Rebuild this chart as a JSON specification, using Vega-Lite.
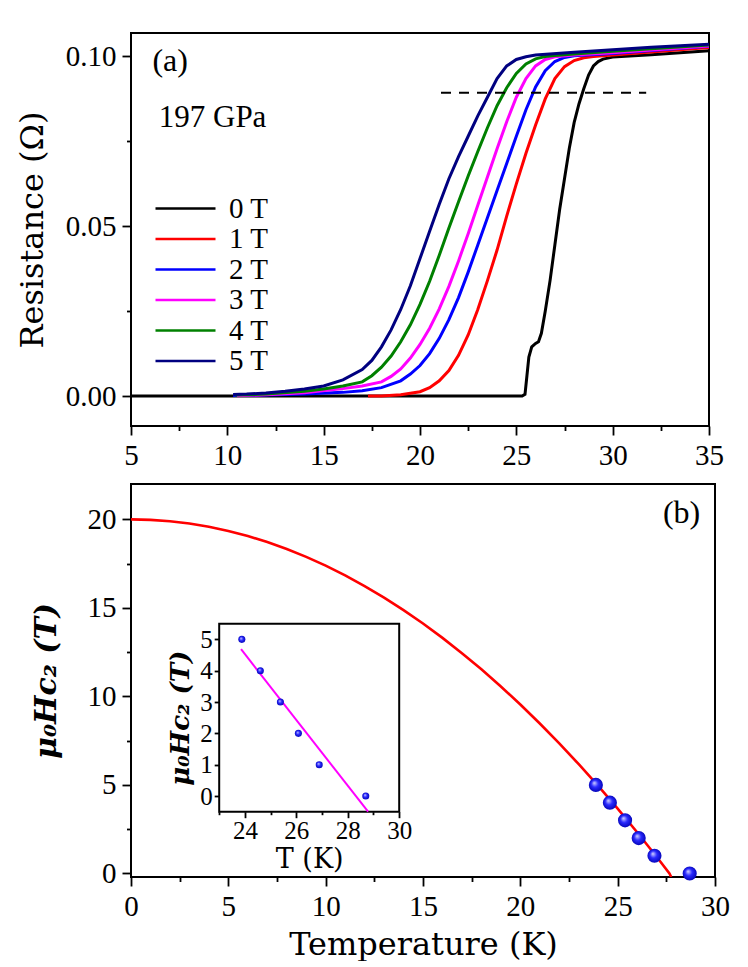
{
  "$schema": "https://vega.github.io/schema/vega-lite/v6.json",
  "background": "white",
  "padding": {"left": 15, "top": 32, "right": 0, "bottom": 0},
  "spacing": 58,
  "bounds": "flush",
  "resolve": {"scale": {"color": "independent", "x": "independent", "y": "independent"}},
  "config": {
    "view": {"stroke": "black", "strokeWidth": 2},
    "axis": {"domain": false, "grid": false, "tickColor": "black", "tickWidth": 1.8, "labelColor": "black", "titleColor": "black", "labelFont": "Liberation Serif", "labelFontSize": 29, "titleFont": "DejaVu Serif", "titleFontSize": 32, "titleFontWeight": "normal", "labelPadding": 6, "labelFlush": false, "labelOverlap": false, "labelBound": false},
    "text": {"color": "black"}
  },
  "datasets": {
    "res": [
      {"B":"0 T","T":5,"R":0},{"B":"0 T","T":8,"R":0},{"B":"0 T","T":10,"R":0},{"B":"0 T","T":13,"R":0},{"B":"0 T","T":16,"R":0},{"B":"0 T","T":19,"R":0},{"B":"0 T","T":22,"R":0},{"B":"0 T","T":24,"R":0},{"B":"0 T","T":25.3,"R":0},{"B":"0 T","T":25.45,"R":0.0005},{"B":"0 T","T":25.55,"R":0.006},{"B":"0 T","T":25.65,"R":0.0115},{"B":"0 T","T":25.8,"R":0.0145},{"B":"0 T","T":26.0,"R":0.0155},{"B":"0 T","T":26.15,"R":0.016},{"B":"0 T","T":26.3,"R":0.0185},{"B":"0 T","T":26.5,"R":0.025},{"B":"0 T","T":26.75,"R":0.034},{"B":"0 T","T":27.0,"R":0.0445},{"B":"0 T","T":27.25,"R":0.055},{"B":"0 T","T":27.5,"R":0.064},{"B":"0 T","T":27.75,"R":0.073},{"B":"0 T","T":28.0,"R":0.0805},{"B":"0 T","T":28.25,"R":0.086},{"B":"0 T","T":28.5,"R":0.0905},{"B":"0 T","T":28.75,"R":0.0945},{"B":"0 T","T":29.0,"R":0.0972},{"B":"0 T","T":29.25,"R":0.0985},{"B":"0 T","T":29.5,"R":0.0992},{"B":"0 T","T":30.0,"R":0.0998},{"B":"0 T","T":32,"R":0.1005},{"B":"0 T","T":35,"R":0.1017},
      {"B":"1 T","T":17.3,"R":0},{"B":"1 T","T":18,"R":0},{"B":"1 T","T":19,"R":0.0004},{"B":"1 T","T":20,"R":0.0013},{"B":"1 T","T":20.5,"R":0.0025},{"B":"1 T","T":21,"R":0.0045},{"B":"1 T","T":21.5,"R":0.0075},{"B":"1 T","T":22,"R":0.012},{"B":"1 T","T":22.5,"R":0.018},{"B":"1 T","T":23,"R":0.0255},{"B":"1 T","T":23.5,"R":0.034},{"B":"1 T","T":24,"R":0.043},{"B":"1 T","T":24.5,"R":0.053},{"B":"1 T","T":25,"R":0.0625},{"B":"1 T","T":25.5,"R":0.0715},{"B":"1 T","T":26,"R":0.0798},{"B":"1 T","T":26.5,"R":0.0875},{"B":"1 T","T":27,"R":0.0935},{"B":"1 T","T":27.5,"R":0.097},{"B":"1 T","T":28,"R":0.0988},{"B":"1 T","T":28.5,"R":0.0996},{"B":"1 T","T":29,"R":0.1},{"B":"1 T","T":30,"R":0.1004},{"B":"1 T","T":35,"R":0.1026},
      {"B":"2 T","T":10.3,"R":0.0002},{"B":"2 T","T":12,"R":0.0003},{"B":"2 T","T":14,"R":0.0006},{"B":"2 T","T":16,"R":0.0011},{"B":"2 T","T":17,"R":0.0016},{"B":"2 T","T":18,"R":0.0025},{"B":"2 T","T":19,"R":0.0045},{"B":"2 T","T":19.5,"R":0.0065},{"B":"2 T","T":20,"R":0.009},{"B":"2 T","T":20.5,"R":0.0125},{"B":"2 T","T":21,"R":0.017},{"B":"2 T","T":21.5,"R":0.0225},{"B":"2 T","T":22,"R":0.029},{"B":"2 T","T":22.5,"R":0.0365},{"B":"2 T","T":23,"R":0.0445},{"B":"2 T","T":23.5,"R":0.0525},{"B":"2 T","T":24,"R":0.0605},{"B":"2 T","T":24.5,"R":0.0685},{"B":"2 T","T":25,"R":0.0765},{"B":"2 T","T":25.5,"R":0.0843},{"B":"2 T","T":26,"R":0.091},{"B":"2 T","T":26.5,"R":0.0958},{"B":"2 T","T":27,"R":0.0985},{"B":"2 T","T":27.5,"R":0.0997},{"B":"2 T","T":28,"R":0.1002},{"B":"2 T","T":30,"R":0.1009},{"B":"2 T","T":35,"R":0.103},
      {"B":"3 T","T":10.5,"R":0.0001},{"B":"3 T","T":12,"R":0.0004},{"B":"3 T","T":14,"R":0.001},{"B":"3 T","T":16,"R":0.0022},{"B":"3 T","T":17,"R":0.003},{"B":"3 T","T":18,"R":0.0042},{"B":"3 T","T":18.5,"R":0.0058},{"B":"3 T","T":19,"R":0.008},{"B":"3 T","T":19.5,"R":0.0112},{"B":"3 T","T":20,"R":0.0152},{"B":"3 T","T":20.5,"R":0.02},{"B":"3 T","T":21,"R":0.0257},{"B":"3 T","T":21.5,"R":0.0323},{"B":"3 T","T":22,"R":0.0398},{"B":"3 T","T":22.5,"R":0.0478},{"B":"3 T","T":23,"R":0.0562},{"B":"3 T","T":23.5,"R":0.0645},{"B":"3 T","T":24,"R":0.0728},{"B":"3 T","T":24.5,"R":0.0808},{"B":"3 T","T":25,"R":0.088},{"B":"3 T","T":25.5,"R":0.0935},{"B":"3 T","T":26,"R":0.0972},{"B":"3 T","T":26.5,"R":0.0991},{"B":"3 T","T":27,"R":0.0999},{"B":"3 T","T":28,"R":0.1004},{"B":"3 T","T":30,"R":0.1011},{"B":"3 T","T":35,"R":0.1031},
      {"B":"4 T","T":10.4,"R":0.0003},{"B":"4 T","T":12,"R":0.0006},{"B":"4 T","T":14,"R":0.0014},{"B":"4 T","T":15,"R":0.0021},{"B":"4 T","T":16,"R":0.003},{"B":"4 T","T":17,"R":0.0042},{"B":"4 T","T":17.5,"R":0.006},{"B":"4 T","T":18,"R":0.0085},{"B":"4 T","T":18.5,"R":0.0118},{"B":"4 T","T":19,"R":0.016},{"B":"4 T","T":19.5,"R":0.021},{"B":"4 T","T":20,"R":0.027},{"B":"4 T","T":20.5,"R":0.0338},{"B":"4 T","T":21,"R":0.0415},{"B":"4 T","T":21.5,"R":0.0495},{"B":"4 T","T":22,"R":0.0572},{"B":"4 T","T":22.5,"R":0.0648},{"B":"4 T","T":23,"R":0.072},{"B":"4 T","T":23.5,"R":0.079},{"B":"4 T","T":24,"R":0.0855},{"B":"4 T","T":24.5,"R":0.0908},{"B":"4 T","T":25,"R":0.095},{"B":"4 T","T":25.5,"R":0.0978},{"B":"4 T","T":26,"R":0.0993},{"B":"4 T","T":26.5,"R":0.1},{"B":"4 T","T":27,"R":0.1003},{"B":"4 T","T":28,"R":0.1007},{"B":"4 T","T":30,"R":0.1015},{"B":"4 T","T":35,"R":0.1034},
      {"B":"5 T","T":10.3,"R":0.0005},{"B":"5 T","T":11,"R":0.0006},{"B":"5 T","T":12,"R":0.0009},{"B":"5 T","T":13,"R":0.0014},{"B":"5 T","T":14,"R":0.0021},{"B":"5 T","T":15,"R":0.003},{"B":"5 T","T":16,"R":0.0048},{"B":"5 T","T":17,"R":0.0078},{"B":"5 T","T":17.5,"R":0.0105},{"B":"5 T","T":18,"R":0.0145},{"B":"5 T","T":18.5,"R":0.0195},{"B":"5 T","T":19,"R":0.0255},{"B":"5 T","T":19.5,"R":0.0325},{"B":"5 T","T":20,"R":0.0405},{"B":"5 T","T":20.5,"R":0.0485},{"B":"5 T","T":21,"R":0.0565},{"B":"5 T","T":21.5,"R":0.064},{"B":"5 T","T":22,"R":0.0705},{"B":"5 T","T":22.5,"R":0.0765},{"B":"5 T","T":23,"R":0.0825},{"B":"5 T","T":23.5,"R":0.088},{"B":"5 T","T":24,"R":0.0935},{"B":"5 T","T":24.5,"R":0.0972},{"B":"5 T","T":25,"R":0.0991},{"B":"5 T","T":25.5,"R":0.0999},{"B":"5 T","T":26,"R":0.1004},{"B":"5 T","T":28,"R":0.1012},{"B":"5 T","T":30,"R":0.102},{"B":"5 T","T":32,"R":0.1027},{"B":"5 T","T":35,"R":0.1036}
    ],
    "hc2": [
      {"T":0,"H":20},{"T":1,"H":19.974},{"T":2,"H":19.895},{"T":3,"H":19.765},{"T":4,"H":19.582},{"T":5,"H":19.346},{"T":6,"H":19.059},{"T":7,"H":18.719},{"T":8,"H":18.327},{"T":9,"H":17.883},{"T":10,"H":17.386},{"T":11,"H":16.837},{"T":12,"H":16.236},{"T":13,"H":15.582},{"T":14,"H":14.876},{"T":15,"H":14.118},{"T":16,"H":13.308},{"T":17,"H":12.445},{"T":18,"H":11.53},{"T":19,"H":10.563},{"T":20,"H":9.544},{"T":21,"H":8.472},{"T":22,"H":7.348},{"T":23,"H":6.171},{"T":24,"H":4.943},{"T":25,"H":3.662},{"T":26,"H":2.329},{"T":27,"H":0.943},{"T":27.66,"H":0},{"T":27.75,"H":-0.2}
    ],
    "pts": [
      {"T":23.88,"H":5},{"T":24.6,"H":4},{"T":25.38,"H":3},{"T":26.08,"H":2},{"T":26.89,"H":1},{"T":28.7,"H":0}
    ],
    "fit": [
      {"T":23.85,"H":4.685},{"T":28.79,"H":-0.5}
    ]
  },
  "vconcat": [
    {
      "width": 578,
      "height": 393,
      "layer": [
        {
          "data": {"name": "res"},
          "mark": {"type": "line", "strokeWidth": 3, "clip": true},
          "encoding": {
            "x": {"field": "T", "type": "quantitative",
              "scale": {"domain": [5, 35], "nice": false, "zero": false},
              "axis": {"title": null, "values": [5, 7.5, 10, 12.5, 15, 17.5, 20, 22.5, 25, 27.5, 30, 32.5, 35],
                "labelExpr": "datum.value % 5 != 0 ? '' : format(datum.value, 'd')",
                "tickSize": {"condition": {"test": "datum.value % 5 != 0", "value": 4.5}, "value": 9}}},
            "y": {"field": "R", "type": "quantitative",
              "scale": {"domain": [-0.0088, 0.1069], "nice": false, "zero": false},
              "axis": {"title": "Resistance (Ω)", "titlePadding": 16, "values": [0, 0.025, 0.05, 0.075, 0.1],
                "labelExpr": "round(datum.value * 1000) % 50 != 0 ? '' : format(datum.value, '.2f')",
                "tickSize": {"condition": {"test": "round(datum.value * 1000) % 50 != 0", "value": 4.5}, "value": 9}}},
            "color": {"field": "B", "type": "nominal",
              "scale": {"domain": ["0 T", "1 T", "2 T", "3 T", "4 T", "5 T"], "range": ["#000000", "#ff0000", "#0000ff", "#ff00ff", "#008000", "#000080"]},
              "legend": {"orient": "none", "legendX": 40, "legendY": 161, "title": null, "symbolType": "M -3,0 L 3,0", "symbolSize": 400, "symbolStrokeWidth": 2.6, "labelFontSize": 29, "labelFont": "Liberation Serif", "labelColor": "black", "labelOffset": 29, "rowPadding": 0.5, "padding": 0}}
          }
        },
        {
          "data": {"values": [{}]},
          "mark": {"type": "rule", "strokeDash": [10, 8], "strokeWidth": 2, "color": "black"},
          "encoding": {"x": {"datum": 21.09}, "x2": {"datum": 31.74}, "y": {"datum": 0.0893}}
        },
        {
          "data": {"values": [{}]},
          "mark": {"type": "text", "text": "(a)", "align": "left", "baseline": "middle", "fontSize": 32, "font": "Liberation Serif"},
          "encoding": {"x": {"datum": 6.11}, "y": {"datum": 0.0987}}
        },
        {
          "data": {"values": [{}]},
          "mark": {"type": "text", "text": "197 GPa", "align": "left", "baseline": "middle", "fontSize": 31, "font": "Liberation Serif"},
          "encoding": {"x": {"datum": 6.44}, "y": {"datum": 0.0819}}
        }
      ]
    },
    {
      "width": 584,
      "height": 393,
      "layer": [
        {
          "layer": [
            {
              "data": {"name": "hc2"},
              "mark": {"type": "line", "color": "#ff0000", "strokeWidth": 2.6, "clip": true},
              "encoding": {
                "x": {"field": "T", "type": "quantitative",
                  "scale": {"domain": [0, 30], "nice": false, "zero": false},
                  "axis": {"orient": "bottom", "title": "Temperature (K)", "titlePadding": 8,
                    "values": [0, 2.5, 5, 7.5, 10, 12.5, 15, 17.5, 20, 22.5, 25, 27.5, 30],
                    "labelExpr": "datum.value % 5 != 0 ? '' : format(datum.value, 'd')",
                    "tickSize": {"condition": {"test": "datum.value % 5 != 0", "value": 4.5}, "value": 9}}},
                "y": {"field": "H", "type": "quantitative",
                  "scale": {"domain": [-0.2, 22], "nice": false, "zero": false},
                  "axis": {"orient": "left", "title": "μ₀Hc₂ (T)", "titleFontStyle": "italic", "titleFontWeight": "bold", "titleFontSize": 30, "titlePadding": 26,
                    "values": [0, 2.5, 5, 7.5, 10, 12.5, 15, 17.5, 20],
                    "labelExpr": "datum.value % 5 != 0 ? '' : format(datum.value, 'd')",
                    "tickSize": {"condition": {"test": "datum.value % 5 != 0", "value": 4.5}, "value": 9}}}
              }
            },
            {
              "data": {"name": "pts"},
              "mark": {"type": "point", "filled": true, "size": 200, "opacity": 1, "strokeWidth": 0,
                "fill": {"gradient": "radial", "x1": 0.38, "y1": 0.35, "r1": 0, "x2": 0.5, "y2": 0.5, "r2": 0.55,
                  "stops": [{"offset": 0, "color": "#d8d8ff"}, {"offset": 0.45, "color": "#2a2aff"}, {"offset": 1, "color": "#0000b0"}]}},
              "encoding": {"x": {"field": "T", "type": "quantitative"}, "y": {"field": "H", "type": "quantitative"}}
            },
            {
              "data": {"values": [{}]},
              "mark": {"type": "text", "text": "(b)", "align": "right", "baseline": "middle", "fontSize": 32, "font": "Liberation Serif"},
              "encoding": {"x": {"datum": 29.24}, "y": {"datum": 20.35}}
            }
          ]
        },
        {
          "layer": [
            {
              "data": {"values": [{}]},
              "mark": {"type": "rect", "fill": "white", "stroke": "black", "strokeWidth": 2},
              "encoding": {
                "x": {"datum": 23, "type": "quantitative",
                  "scale": {"domain": [23, 30], "range": [88.2, 268.2], "nice": false, "zero": false},
                  "axis": {"orient": "bottom", "offset": -65.3, "title": "T (K)", "titleFontSize": 27, "titlePadding": 3, "labelFontSize": 25, "labelPadding": 1,
                    "values": [23, 24, 25, 26, 27, 28, 29, 30],
                    "labelExpr": "datum.value % 2 != 0 ? '' : format(datum.value, 'd')",
                    "tickSize": {"condition": {"test": "datum.value % 2 != 0", "value": 3}, "value": 6}}},
                "x2": {"datum": 30},
                "y": {"datum": -0.5, "type": "quantitative",
                  "scale": {"domain": [-0.5, 5.5], "range": [327.7, 139.7], "nice": false, "zero": false},
                  "axis": {"orient": "left", "offset": -88.2, "title": "μ₀Hc₂ (T)", "titleFontStyle": "italic", "titleFontWeight": "bold", "titleFontSize": 26, "titlePadding": 6, "labelFontSize": 25, "labelPadding": 2,
                    "values": [0, 0.5, 1, 1.5, 2, 2.5, 3, 3.5, 4, 4.5, 5],
                    "labelExpr": "datum.value % 1 != 0 ? '' : format(datum.value, 'd')",
                    "tickSize": {"condition": {"test": "datum.value % 1 != 0", "value": 2.5}, "value": 5}}},
                "y2": {"datum": 5.5}
              }
            },
            {
              "data": {"name": "fit"},
              "mark": {"type": "line", "color": "#ff00ff", "strokeWidth": 2},
              "encoding": {"x": {"field": "T", "type": "quantitative"}, "y": {"field": "H", "type": "quantitative"}}
            },
            {
              "data": {"name": "pts"},
              "mark": {"type": "point", "filled": true, "size": 50, "opacity": 1, "strokeWidth": 0,
                "fill": {"gradient": "radial", "x1": 0.38, "y1": 0.35, "r1": 0, "x2": 0.5, "y2": 0.5, "r2": 0.55,
                  "stops": [{"offset": 0, "color": "#d8d8ff"}, {"offset": 0.45, "color": "#2a2aff"}, {"offset": 1, "color": "#0000b0"}]}},
              "encoding": {"x": {"field": "T", "type": "quantitative"}, "y": {"field": "H", "type": "quantitative"}}
            }
          ]
        }
      ],
      "resolve": {"scale": {"x": "independent", "y": "independent"}, "axis": {"x": "independent", "y": "independent"}}
    }
  ]
}
